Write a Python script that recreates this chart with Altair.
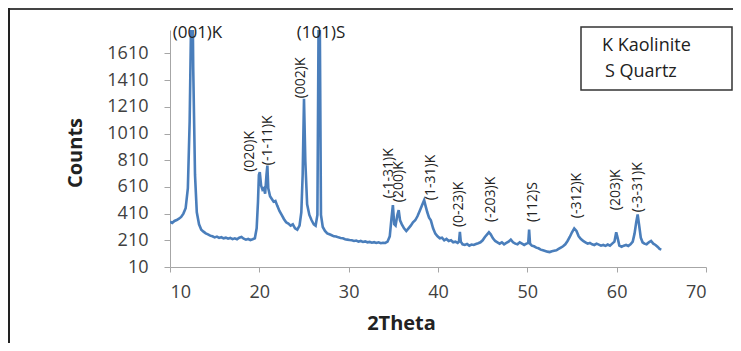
import altair as alt
import pandas as pd

# ---- data (2Theta, Counts) ----
two_theta = [
    10.0, 10.25, 10.5, 10.75, 11.0, 11.25, 11.5, 11.75, 12.0, 12.2, 12.35, 12.45, 12.6, 12.8,
    13.0, 13.25, 13.5, 13.75, 14.0, 14.25, 14.5, 14.75, 15.0, 15.25, 15.5, 15.75, 16.0, 16.25,
    16.5, 16.75, 17.0, 17.25, 17.5, 17.75, 18.0, 18.25, 18.5, 18.75, 19.0, 19.25, 19.5, 19.7,
    19.85, 19.95, 20.05, 20.2, 20.35, 20.5, 20.65, 20.8, 20.9, 21.0, 21.2, 21.4, 21.6, 21.8,
    22.0, 22.25, 22.5, 22.75, 23.0, 23.25, 23.5, 23.75, 24.0, 24.25, 24.5, 24.7, 24.85, 25.0,
    25.15, 25.35, 25.6, 25.85, 26.1, 26.3, 26.5, 26.6, 26.7, 26.8, 26.9, 27.1, 27.35, 27.6,
    27.85, 28.1, 28.35, 28.6, 28.85, 29.1, 29.35, 29.6, 29.85, 30.1, 30.35, 30.6, 30.85, 31.1,
    31.35, 31.6, 31.85, 32.1, 32.35, 32.6, 32.85, 33.1, 33.35, 33.6, 33.85, 34.1, 34.35, 34.6,
    34.8, 34.95, 35.1, 35.25, 35.45, 35.6, 35.75, 35.95, 36.2, 36.45, 36.7, 36.95, 37.2, 37.45,
    37.7, 37.95, 38.2, 38.45, 38.6, 38.8, 39.0, 39.2, 39.45, 39.7, 39.95, 40.2, 40.45, 40.7,
    40.95, 41.2, 41.45, 41.7, 41.95, 42.2, 42.35, 42.45, 42.55, 42.75, 43.0, 43.25, 43.5, 43.75,
    44.0, 44.25, 44.5, 44.75, 45.0, 45.25, 45.5, 45.7, 45.9, 46.15, 46.4, 46.65, 46.9, 47.15,
    47.4, 47.65, 47.9, 48.15, 48.4, 48.65, 48.9, 49.15, 49.4, 49.65, 49.9, 50.1, 50.2, 50.3,
    50.5, 50.75, 51.0, 51.25, 51.5, 51.75, 52.0, 52.25, 52.5, 52.75, 53.0, 53.25, 53.5, 53.75,
    54.0, 54.25, 54.5, 54.75, 55.0, 55.25, 55.5, 55.75, 56.0, 56.25, 56.5, 56.75, 57.0, 57.25,
    57.5, 57.75, 58.0, 58.25, 58.5, 58.75, 59.0, 59.25, 59.5, 59.75, 59.95, 60.1, 60.3, 60.55,
    60.8, 61.05, 61.3, 61.55, 61.8, 62.0, 62.2, 62.35, 62.5, 62.7, 62.9, 63.1, 63.35, 63.6,
    63.85, 64.1, 64.35, 64.6, 64.8, 65.0,
]
counts = [
    350, 340, 355, 362, 372, 385, 410, 450, 600, 1100, 1800, 2600, 1500, 700,
    420, 330, 290, 275, 262, 255, 245, 240, 232, 238, 228, 233, 225, 230,
    222, 228, 219, 225, 218, 230, 235, 222, 215, 220, 212, 218, 225, 300,
    500, 700, 720, 620, 590, 600, 560, 700, 770, 600, 540, 520, 500, 505,
    470, 430, 400, 370, 345, 335, 320, 330, 300, 290, 320, 420, 700, 1270,
    800, 480, 400, 360, 330, 320, 400, 1500, 2600, 1500, 400, 310, 280, 262,
    255, 248, 240, 238, 232, 228, 225, 218, 215, 212, 210, 205, 208, 200,
    205, 198, 202, 195, 198, 192, 196, 190, 195, 188, 192, 190, 200, 240,
    380, 474, 330, 320, 400, 436, 360, 330, 300, 280, 300, 320, 345, 360,
    390, 430, 470, 511, 470, 420, 380, 360, 300, 260, 240, 225, 230, 210,
    220, 205, 210, 195, 200, 190, 200, 274, 200, 180, 175, 182, 170, 178,
    175, 182, 188, 195, 210, 235, 255, 270, 255, 225, 205, 195, 185, 195,
    180, 190, 200, 215, 195, 185, 180, 195, 185, 175, 185, 190, 290, 185,
    170, 165, 155, 150, 140, 135, 130, 125, 122, 128, 132, 135, 145, 155,
    165, 180, 205, 235, 270, 299, 280, 240, 220, 205, 195, 185, 190, 180,
    175, 185, 178, 170, 175, 168, 178, 170, 185, 200, 270, 230, 170, 162,
    170, 175, 168, 180, 200, 260, 350, 404, 330, 230, 195, 185, 180, 195,
    205, 185, 175, 160, 145, 140,
]

# peak annotations (rotated, text grows upward from the given point)
rot_labels = ["(020)K", "(-1-11)K", "(002)K", "(-1-31)K", "(200)K", "(1-31)K", "(0-23)K",
              "(-203)K", "(112)S", "(-312)K", "(203)K", "(-3-31)K"]
rot_x = [19.0, 21.0, 24.7, 34.5, 35.6, 39.2, 42.4, 45.95, 50.65, 55.6, 59.9, 62.4]
rot_y = [723, 773, 1274, 526, 496, 511, 309, 347, 347, 376, 436, 421]

# horizontal annotations at the top
top_labels = ["(001)K", "(101)S"]
top_x = [10.3, 24.2]
top_y = [1762, 1762]

x_ticks = [10, 20, 30, 40, 50, 60, 70]
y_ticks = [10, 210, 410, 610, 810, 1010, 1210, 1410, 1610]

legend_line1 = "K  Kaolinite"
legend_line2 = "S Quartz"

FONT = "Open Sans"
BLUE = "#4A7EBB"
W, H = 536, 237

df = pd.DataFrame({"x": two_theta, "y": counts})
rot_df = pd.DataFrame({"label": rot_labels, "x": rot_x, "y": rot_y})
top_df = pd.DataFrame({"label": top_labels, "x": top_x, "y": top_y})
one = pd.DataFrame({"d": [0]})

xscale = alt.Scale(domain=[10, 70], nice=False)
yscale = alt.Scale(domain=[10, 1786], nice=False)

x_axis = alt.Axis(
    values=x_ticks, grid=False, tickSize=5, labelFont=FONT, labelFontSize=18,
    labelColor="#404040", domainColor="#A6A6A6", tickColor="#A6A6A6", labelPadding=11,
    labelOverlap=False,
    title="2Theta", titleFont=FONT, titleFontSize=20, titleFontWeight="bold",
    titleColor="#222222", titleX=231, titleY=56, titleBaseline="middle", titleAlign="center")
y_axis = alt.Axis(
    values=y_ticks, format="d", grid=False, tickSize=6, labelFont=FONT, labelFontSize=18,
    labelColor="#404040", domainColor="#A6A6A6", tickColor="#A6A6A6", labelPadding=16,
    labelOverlap=False,
    title="Counts", titleFont=FONT, titleFontSize=20, titleFontWeight="bold",
    titleColor="#222222", titleX=-95, titleY=H / 2 + 4, titleBaseline="middle",
    titleAlign="center", titleAngle=270)

line = alt.Chart(df).mark_line(color=BLUE, strokeWidth=2.6, clip=True).encode(
    x=alt.X("x:Q", scale=xscale, axis=x_axis),
    y=alt.Y("y:Q", scale=yscale, axis=y_axis),
)

rot = alt.Chart(rot_df).mark_text(angle=270, align="left", baseline="middle",
                                  font=FONT, fontSize=14, color="#222222").encode(
    x=alt.X("x:Q", scale=xscale, axis=x_axis), y=alt.Y("y:Q", scale=yscale, axis=y_axis),
    text="label:N")

top = alt.Chart(top_df).mark_text(align="left", baseline="middle",
                                  font=FONT, fontSize=17, color="#222222").encode(
    x=alt.X("x:Q", scale=xscale, axis=x_axis), y=alt.Y("y:Q", scale=yscale, axis=y_axis),
    text="label:N")

legend_box = alt.Chart(one).mark_rect(fill="white", stroke="#333333", strokeWidth=1.5).encode(
    x=alt.value(411), x2=alt.value(562), y=alt.value(-3), y2=alt.value(60))

legend_t1 = alt.Chart(one).mark_text(align="left", baseline="middle", font=FONT,
                                     fontSize=18, color="#222222", text=legend_line1).encode(
    x=alt.value(432), y=alt.value(16))
legend_t2 = alt.Chart(one).mark_text(align="left", baseline="middle", font=FONT,
                                     fontSize=18, color="#222222", text=legend_line2).encode(
    x=alt.value(435), y=alt.value(42))

frame_top = alt.Chart(one).mark_rule(color="#444444", strokeWidth=2).encode(
    x=alt.value(-161), x2=alt.value(570), y=alt.value(-21))
frame_left = alt.Chart(one).mark_rule(color="#222222", strokeWidth=2).encode(
    x=alt.value(-161), y=alt.value(-22), y2=alt.value(320))

chart = alt.layer(line, rot, top, legend_box, legend_t1, legend_t2, frame_top, frame_left).properties(
    width=W, height=H,
    padding={"left": 162, "top": 22, "right": 27, "bottom": 76},
    autosize=alt.AutoSizeParams(type="none"),
    background="white",
).configure_view(strokeWidth=0).configure_axis(labelOverlap=False)

chart.save("out.html", embed_options={"renderer": "svg", "actions": False})
